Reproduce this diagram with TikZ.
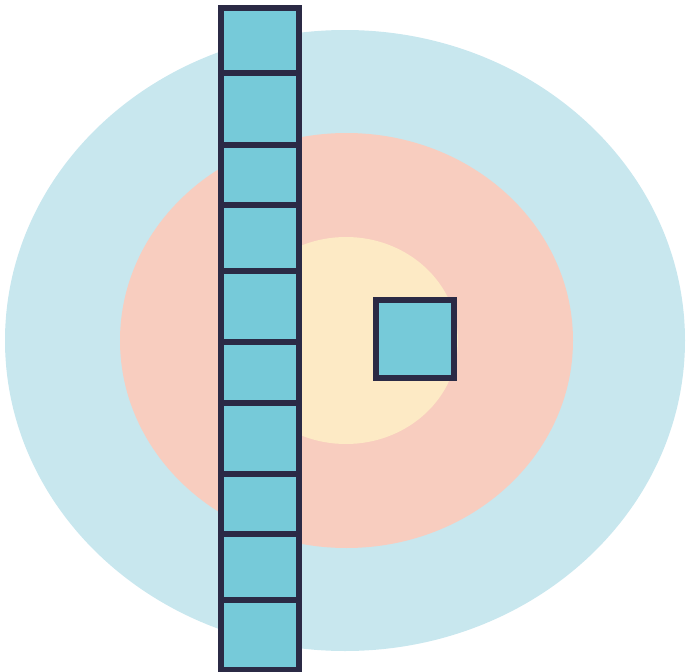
\documentclass[tikz,border=0pt]{standalone}
\definecolor{outerblue}{HTML}{C8E7EE}
\definecolor{salmon}{HTML}{F8CDBF}
\definecolor{cream}{HTML}{FDEAC5}
\definecolor{cellfill}{HTML}{76CAD9}
\definecolor{ink}{HTML}{2B2A45}
\begin{document}
\begin{tikzpicture}[x=1pt,y=-1pt,
  cellbox/.style={fill=cellfill,draw=ink,line width=6pt},
  divider/.style={draw=ink,line width=6pt}]
\useasboundingbox (0,0) rectangle (686,672);
\fill[outerblue] (345,340.5) ellipse [x radius=340, y radius=310.5];
\fill[salmon] (346.5,340.5) ellipse [x radius=226.5, y radius=207.5];
\fill[cream] (346,340.5) ellipse [x radius=112, y radius=103.5];
% column
\fill[cellfill] (221,7.5) rectangle (298.5,670);
\foreach \yy in {72.5,144.5,204.5,270.5,341.5,402.5,473.5,533.5,599.5}
  \draw[divider] (221,\yy) -- (298.5,\yy);
\draw[divider] (221,7.5) rectangle (298.5,670);
% small square
\draw[cellbox] (376,300) rectangle (453.5,377.5);
\end{tikzpicture}
\end{document}
